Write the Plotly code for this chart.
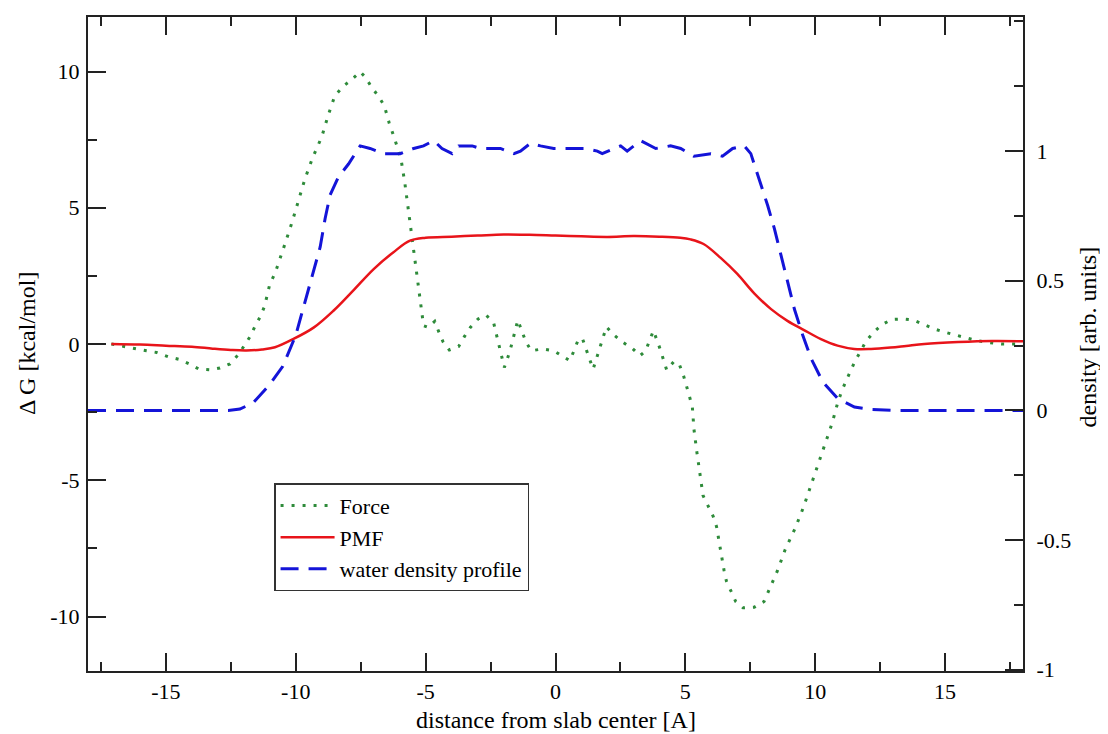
import plotly.graph_objects as go

# ---------------- data ----------------
force_x = [-17.1, -16.65, -16.2, -15.75, -15.36, -14.9, -14.5, -14.1, -13.73, -13.3,
           -12.92, -12.53, -12.21, -12.0, -11.76, -11.57, -11.37, -11.2, -11.0, -10.8,
           -10.6, -10.4, -10.15, -9.9, -9.65, -9.35, -9.0, -8.75, -8.5, -8.16,
           -7.84, -7.52, -7.33, -7.07, -6.81, -6.59, -6.4, -6.2, -5.95, -5.8,
           -5.66, -5.5, -5.37, -5.24, -5.14, -5.08, -4.91, -4.65, -4.5, -4.33,
           -4.09, -3.73, -3.51, -3.28, -2.98, -2.67, -2.38, -2.2, -1.97, -1.76,
           -1.45, -1.28, -1.13, -0.93, -0.51, -0.07, 0.28, 0.55, 0.71, 0.86,
           1.03, 1.16, 1.31, 1.45, 1.58, 1.71, 1.96, 2.25, 2.6, 2.96,
           3.25, 3.47, 3.77, 4.02, 4.28, 4.56, 4.76, 4.92, 5.05, 5.16,
           5.27, 5.33, 5.44, 5.57, 5.68, 5.87, 6.07, 6.2, 6.33, 6.49,
           6.58, 6.75, 6.94, 7.22, 7.65, 8.03, 8.2, 8.55, 8.84, 9.22,
           9.54, 9.81, 10.12, 10.39, 10.65, 10.87, 11.02, 11.19, 11.38, 11.54,
           11.76, 11.95, 12.25, 12.57, 12.94, 13.37, 13.78, 14.18, 14.59, 15.0,
           15.4, 15.81, 16.24, 16.65, 17.16, 18.0]
force_y = [0.0, -0.09, -0.16, -0.25, -0.31, -0.47, -0.56, -0.73, -0.92, -0.95,
           -0.88, -0.73, -0.39, -0.06, 0.27, 0.65, 1.0, 1.39, 2.2, 2.59,
           3.2, 3.72, 4.45, 5.25, 6.05, 6.84, 7.6, 8.4, 9.1, 9.47,
           9.71, 9.99, 9.8, 9.41, 9.08, 8.74, 8.1, 7.55, 6.8, 5.9,
           4.9, 3.8, 2.69, 1.86, 1.06, 0.67, 0.61, 0.83, 0.46, 0.08,
           -0.22, -0.09, 0.27, 0.61, 0.92, 1.06, 0.77, 0.1, -0.86, -0.28,
           0.88, 0.43, 0.06, -0.25, -0.18, -0.25, -0.47, -0.61, -0.25, 0.12,
           0.22, -0.18, -0.55, -0.92, -0.53, -0.16, 0.63, 0.33, 0.06, -0.16,
           -0.43, -0.25, 0.49, -0.16, -0.95, -0.64, -0.73, -1.13, -1.53, -1.93,
           -2.32, -3.12, -3.95, -4.77, -5.56, -5.93, -6.32, -6.7, -7.49, -8.31,
           -8.7, -9.08, -9.45, -9.68, -9.66, -9.45, -9.08, -8.31, -7.55, -6.78,
           -6.01, -5.26, -4.46, -3.67, -2.91, -2.14, -1.73, -1.35, -0.98, -0.61,
           -0.25, 0.1, 0.43, 0.71, 0.9, 0.92, 0.88, 0.73, 0.55, 0.43,
           0.33, 0.22, 0.12, 0.06, 0.0, 0.0]

pmf_x = [-17.1, -16.0, -15.0, -14.0, -13.2, -12.5, -11.9, -11.3, -10.8, -10.1,
         -9.3, -8.55, -7.8, -7.0, -6.25, -5.6, -5.0, -4.0, -3.0, -2.0,
         -1.0, 0.0, 1.0, 2.0, 3.0, 4.0, 4.8, 5.2, 5.7, 6.36,
         7.0, 7.65, 8.3, 8.93, 9.57, 10.22, 10.86, 11.5, 12.15, 12.9,
         13.5, 14.2, 15.5, 16.8, 18.0]
pmf_y = [0.0, -0.02, -0.06, -0.1, -0.17, -0.22, -0.24, -0.2, -0.12, 0.18,
         0.61, 1.22, 1.95, 2.75, 3.36, 3.79, 3.9, 3.94, 3.98, 4.02,
         4.01, 3.98, 3.95, 3.93, 3.96, 3.94, 3.9, 3.84, 3.67, 3.16,
         2.57, 1.86, 1.28, 0.85, 0.51, 0.18, -0.06, -0.18, -0.18, -0.13,
         -0.07, 0.0, 0.07, 0.11, 0.1]

dens_x = [-18.0, -16.0, -14.0, -12.6, -12.15, -11.63, -11.0, -10.5, -10.0, -9.7,
          -9.38, -9.06, -8.87, -8.68, -8.36, -7.97, -7.52, -7.14, -6.62, -5.98,
          -5.46, -5.08, -4.69, -4.37, -3.98, -3.73, -3.21, -2.89, -2.38, -2.12,
          -1.6, -1.35, -0.96, -0.58, -0.07, 0.32, 0.84, 1.16, 1.61, 1.8,
          2.25, 2.51, 2.76, 3.02, 3.28, 3.86, 4.43, 4.82, 5.33, 5.98,
          6.43, 6.82, 7.27, 7.52, 7.85, 8.17, 8.43, 8.68, 8.94, 9.2,
          9.52, 9.84, 10.29, 10.87, 11.51, 12.15, 13.0, 18.0]
dens_y = [0.0, 0.0, 0.0, 0.0, 0.005, 0.03, 0.1, 0.17, 0.29, 0.4,
          0.51, 0.63, 0.74, 0.83, 0.9, 0.95, 1.02, 1.01, 0.99, 0.99,
          1.01, 1.02, 1.04, 1.01, 0.99, 1.02, 1.02, 1.01, 1.01, 1.01,
          0.99, 1.0, 1.03, 1.02, 1.01, 1.01, 1.01, 1.01, 1.0, 0.99,
          1.01, 1.02, 1.0, 1.02, 1.04, 1.01, 1.02, 1.01, 0.98, 0.99,
          0.98, 1.01, 1.02, 0.99, 0.89, 0.79, 0.70, 0.60, 0.49, 0.39,
          0.29, 0.2, 0.11, 0.045, 0.013, 0.004, 0.0, 0.0]

x_ticks = [-15, -10, -5, 0, 5, 10, 15]
x_ticktext = ["-15", "-10", "-5", "0", "5", "10", "15"]
y_ticks = [-10, -5, 0, 5, 10]
y_ticktext = ["-10", "-5", "0", "5", "10"]
y2_ticks = [-1, -0.5, 0, 0.5, 1]
y2_ticktext = ["-1", "-0.5", "0", "0.5", "1"]

# ---------------- figure ----------------
FONT = "Liberation Serif"
fig = go.Figure()
fig.add_trace(go.Scatter(x=force_x, y=force_y, mode="lines", name="Force",
                         line=dict(color="#2e8b3a", width=3, dash="3px,8px")))
fig.add_trace(go.Scatter(x=pmf_x, y=pmf_y, mode="lines", name="PMF",
                         line=dict(color="#e8141a", width=2.5, shape="spline")))
fig.add_trace(go.Scatter(x=dens_x, y=dens_y, mode="lines", name="water density profile",
                         yaxis="y2", line=dict(color="#1414d8", width=3, dash="18px,10px")))

axis_common = dict(showline=True, linecolor="#222", linewidth=2, ticks="inside",
                   tickcolor="#222", tickwidth=2, ticklen=18, showgrid=False,
                   zeroline=False, tickfont=dict(family=FONT, size=22, color="black"))
minor_common = dict(ticks="inside", ticklen=9, tickcolor="#222", tickwidth=2)

fig.update_layout(
    width=1100, height=726,
    margin=dict(l=80, r=85, t=7, b=63),
    paper_bgcolor="white", plot_bgcolor="white",
    font=dict(family=FONT, color="black"),
    xaxis=dict(range=[-18, 18], tickvals=x_ticks, ticktext=x_ticktext, mirror="ticks",
               minor=dict(dtick=2.5, tick0=0, **minor_common),
               ticklabelstandoff=0, **axis_common),
    yaxis=dict(range=[-12, 12], tickvals=y_ticks, ticktext=y_ticktext,
               minor=dict(dtick=2.5, tick0=0, **minor_common),
               ticklabelstandoff=2, **axis_common),
    yaxis2=dict(range=[-1.005, 1.517], tickvals=y2_ticks, ticktext=y2_ticktext,
                overlaying="y", side="right",
                minor=dict(dtick=0.25, tick0=0, **minor_common),
                ticklabelstandoff=7, **axis_common),
    legend=dict(x=0.199, y=0.287, xanchor="left", yanchor="top",
                bgcolor="white", bordercolor="#333", borderwidth=1.5,
                itemwidth=54,
                font=dict(family=FONT, size=22, color="black"), tracegroupgap=0),
    showlegend=True,
    annotations=[
        dict(text="distance from slab center [A]", xref="paper", yref="paper",
             x=0.5, y=0, yshift=-49, xanchor="center", yanchor="middle",
             showarrow=False, font=dict(family=FONT, size=24)),
        dict(text="\u0394 G [kcal/mol]", xref="paper", yref="paper",
             x=0, xshift=-61, y=0.5, xanchor="center", yanchor="middle", textangle=-90,
             showarrow=False, font=dict(family=FONT, size=24)),
        dict(text="density [arb. units]", xref="paper", yref="paper",
             x=1, xshift=65, y=0.51, xanchor="center", yanchor="middle", textangle=-90,
             showarrow=False, font=dict(family=FONT, size=24)),
    ],
)

fig.write_html("out.html")
